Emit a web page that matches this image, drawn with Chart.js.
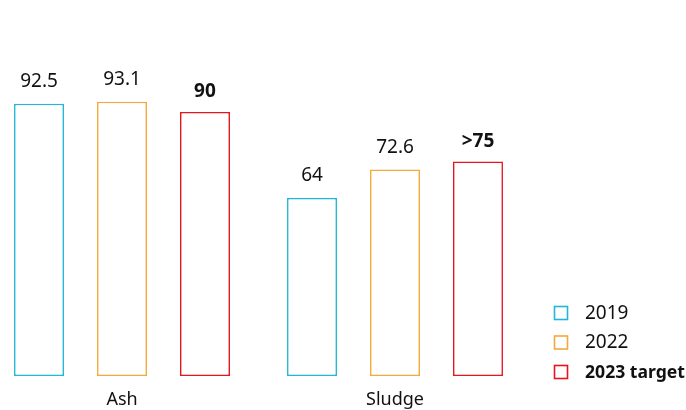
<!DOCTYPE html>
<html>
<head>
<meta charset="utf-8">
<script src="https://cdn.jsdelivr.net/npm/chart.js@4.4.1/dist/chart.umd.min.js"></script>
<style>
html,body{margin:0;padding:0;background:#fff;}
#wrap{position:relative;width:686px;height:410px;}
</style>
</head>
<body>
<div id="wrap"><canvas id="c" width="686" height="410"></canvas></div>
<script>
const categories = ['Ash', 'Sludge'];
const seriesNames = ['2019', '2022', '2023 target'];
const values2019 = [92.5, 64];
const values2022 = [93.1, 72.6];
const valuesTarget = [90, 75];
const labels2019 = ['92.5', '64'];
const labels2022 = ['93.1', '72.6'];
const labelsTarget = ['90', '>75'];
const axisMin = 10;
const axisMax = 100;

const colors = ['#22b8d4', '#f6a83a', '#e5141f'];
const FONT = "'Noto Sans', 'Open Sans', sans-serif";

const valueLabelPlugin = {
  id: 'valueLabels',
  afterDatasetsDraw(chart) {
    const ctx = chart.ctx;
    ctx.save();
    chart.data.datasets.forEach((ds, i) => {
      const meta = chart.getDatasetMeta(i);
      meta.data.forEach((el, j) => {
        ctx.font = (ds.boldLabel ? 'bold ' : '') + '19px ' + FONT;
        ctx.fillStyle = '#111';
        ctx.textAlign = 'center';
        ctx.textBaseline = 'middle';
        ctx.fillText(ds.valueLabels[j], el.x, el.y - (ds.boldLabel ? 20 : 22));
      });
    });
    ctx.restore();
  }
};

const legendPlugin = {
  id: 'sideLegend',
  afterDraw(chart) {
    const ctx = chart.ctx;
    ctx.save();
    chart.data.datasets.forEach((ds, i) => {
      const cy = 313 + i * 29.5;
      ctx.strokeStyle = ds.borderColor;
      ctx.lineWidth = 1.6;
      ctx.strokeRect(554.5, cy - 6.5, 13, 13);
      ctx.font = ds.boldLabel ? ('bold 17.6px ' + FONT) : ('19px ' + FONT);
      ctx.fillStyle = '#111';
      ctx.textAlign = 'left';
      ctx.textBaseline = 'middle';
      ctx.fillText(ds.label, 585, cy + 0.5);
    });
    ctx.restore();
  }
};

function makeDs(name, data, lbls, color, bold) {
  return {
    label: name,
    data: data,
    valueLabels: lbls,
    boldLabel: bold,
    base: axisMin,
    backgroundColor: '#ffffff',
    borderColor: color,
    borderWidth: 1.6,
    borderSkipped: false,
    clip: false,
    categoryPercentage: 0.912,
    barPercentage: 0.602
  };
}

new Chart(document.getElementById('c'), {
  type: 'bar',
  data: {
    labels: categories,
    datasets: [
      makeDs(seriesNames[0], values2019, labels2019, colors[0], false),
      makeDs(seriesNames[1], values2022, labels2022, colors[1], false),
      makeDs(seriesNames[2], valuesTarget, labelsTarget, colors[2], true)
    ]
  },
  options: {
    responsive: false,
    animation: false,
    devicePixelRatio: 1,
    layout: { padding: { left: 122, right: 291, top: 79, bottom: 0 } },
    plugins: { legend: { display: false }, tooltip: { enabled: false } },
    scales: {
      x: {
        offset: false,
        grid: { display: false, drawTicks: false },
        border: { display: false },
        ticks: { color: '#111', font: { family: FONT, size: 18 }, padding: 13, maxRotation: 0, autoSkip: false },
        afterFit(scale) { scale.height = 34; }
      },
      y: {
        display: false,
        min: axisMin,
        max: axisMax
      }
    }
  },
  plugins: [valueLabelPlugin, legendPlugin]
});
</script>
</body>
</html>
